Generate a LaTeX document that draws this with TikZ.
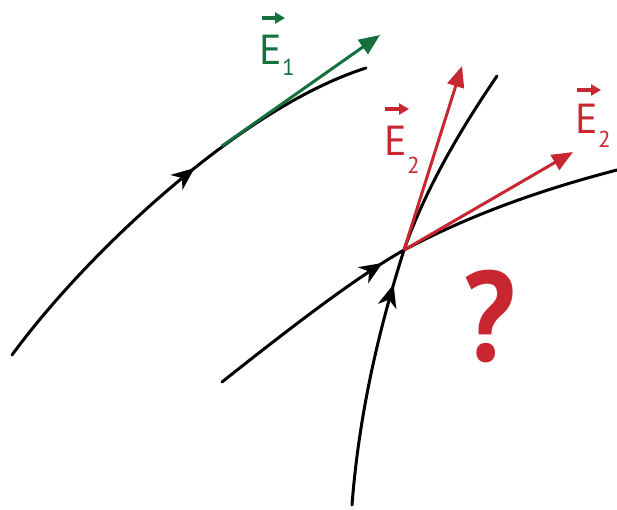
\documentclass[tikz,border=0pt]{standalone}
\usepackage{fontspec}
\setmainfont{PT Sans}
\usetikzlibrary{arrows.meta,decorations.markings}
\definecolor{ered}{RGB}{200,38,48}
\definecolor{egreen}{RGB}{22,112,62}
\begin{document}
\begin{tikzpicture}[x=1pt,y=-1pt,
  field/.style={line width=3pt, line cap=round},
  vec/.style={line width=3pt,-{Triangle[length=21pt,width=17pt]}},
  flowmark/.style={postaction={decorate},decoration={markings,mark=at position #1 with {\arrow{Stealth[length=23pt,width=19pt,inset=7pt]}}}},
  lab/.style={font=\fontsize{42}{42}\selectfont, inner sep=0pt, anchor=base west},
  sublab/.style={font=\fontsize{23}{23}\selectfont, inner sep=0pt, anchor=base west},
  over/.style={line width=3.2pt,-{Triangle[length=10pt,width=11pt]}}
]
\useasboundingbox (0,0) rectangle (617,509);

% field line 1
\coordinate (a0) at (12,355);
\coordinate (a1) at (366,68);
\coordinate (g0) at (222,146);
\coordinate (g1) at (380,35);
\draw[field,flowmark=262pt] (a0) .. controls (85,255) and (240,108) .. (a1);
\draw[vec,egreen] (g0) -- (g1);

% crossing point
\coordinate (x) at (404,250);
\coordinate (b0) at (222,382);
\coordinate (b1) at (617,170);
\coordinate (c0) at (352,505);
\coordinate (c1) at (497,76);
\draw[field,flowmark=200pt] (b0) .. controls (300,320) and (360,275) .. (x) .. controls (470,215) and (540,190) .. (b1);
\draw[field,flowmark=225pt] (c0) .. controls (360,400) and (385,310) .. (x) .. controls (425,190) and (460,130) .. (c1);
\coordinate (r1) at (462,66);
\coordinate (r2) at (573,152);
\draw[vec,ered] (x) -- (r1);
\draw[vec,ered] (x) -- (r2);

% labels
\node[lab,text=egreen] (e1) at (259,64) {E};
\node[sublab,text=egreen] (s1) at ([xshift=0pt,yshift=-11pt]e1.base east) {1};
\path (e1.base west) ++(3,-46) coordinate (v1);
\draw[over,egreen] (v1) -- ++(23,0);

\node[lab,text=ered] (e2) at (384,155) {E};
\node[sublab,text=ered] (s2) at ([xshift=0pt,yshift=-18pt]e2.base east) {2};
\path (e2.base west) ++(1,-46) coordinate (v2);
\draw[over,ered] (v2) -- ++(24,0);

\node[lab,text=ered] (e3) at (575,133) {E};
\node[sublab,text=ered] (s3) at ([xshift=0pt,yshift=-14pt]e3.base east) {2};
\path (e3.base west) ++(2,-43) coordinate (v3);
\draw[over,ered] (v3) -- ++(24,0);

\node[font=\bfseries\fontsize{128}{128}\selectfont,text=ered,inner sep=0pt,xscale=0.9] (q) at (490,316) {?};
\end{tikzpicture}
\end{document}
